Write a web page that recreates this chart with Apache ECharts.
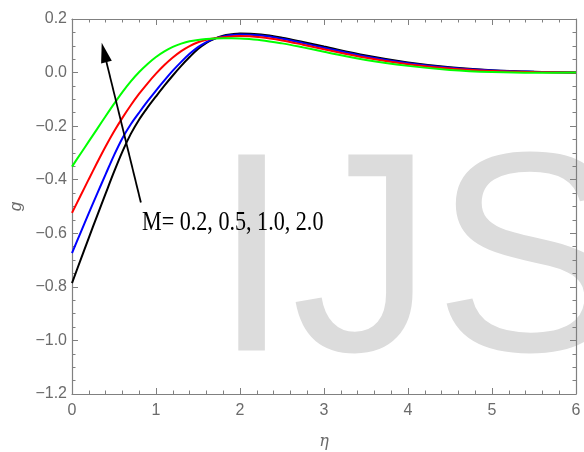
<!DOCTYPE html>
<html>
<head>
<meta charset="utf-8">
<script src="https://cdn.jsdelivr.net/npm/echarts@6/dist/echarts.min.js"></script>
<style>
  html, body { margin: 0; padding: 0; background: #fff; }
  #chart { width: 584px; height: 452px; }
</style>
</head>
<body>
<div id="chart"></div>
<script>
// Similarity variable η (finer near the wall, coarser in the far field)
const eta = [0, 0.1, 0.2, 0.3, 0.4, 0.5, 0.6, 0.7, 0.8, 0.9, 1.0, 1.1, 1.2, 1.3, 1.4, 1.5, 1.6, 1.7, 1.8, 1.9, 2.0,
             2.25, 2.5, 2.75, 3.0, 3.5, 4.0, 4.5, 5.0, 5.5, 6.0];

// g(η) profiles for the magnetic parameter M
const gM02 = [-0.786, -0.701, -0.617, -0.534, -0.452, -0.371, -0.295, -0.229, -0.175, -0.130, -0.089, -0.049, -0.011, 0.025, 0.058, 0.088, 0.111, 0.127, 0.138, 0.143, 0.146,
              0.142, 0.130, 0.114, 0.097, 0.064, 0.038, 0.020, 0.009, 0.003, 0.0];
const gM05 = [-0.674, -0.599, -0.525, -0.452, -0.380, -0.309, -0.245, -0.193, -0.149, -0.107, -0.067, -0.029, 0.007, 0.040, 0.070, 0.095, 0.114, 0.127, 0.135, 0.140, 0.142,
              0.138, 0.126, 0.110, 0.093, 0.060, 0.035, 0.018, 0.008, 0.003, 0.0];
const gM10 = [-0.524, -0.461, -0.398, -0.336, -0.276, -0.220, -0.169, -0.122, -0.079, -0.040, -0.004, 0.028, 0.056, 0.080, 0.099, 0.113, 0.122, 0.128, 0.132, 0.135, 0.137,
              0.132, 0.120, 0.104, 0.087, 0.055, 0.031, 0.015, 0.006, 0.002, 0.0];
const gM20 = [-0.351, -0.304, -0.257, -0.210, -0.163, -0.117, -0.073, -0.033, 0.002, 0.032, 0.058, 0.079, 0.096, 0.108, 0.117, 0.122, 0.125, 0.127, 0.128, 0.128, 0.127,
              0.121, 0.109, 0.094, 0.078, 0.047, 0.025, 0.010, 0.002, -0.001, 0.0];

const seriesNames = ['M = 0.2', 'M = 0.5', 'M = 1.0', 'M = 2.0'];
const seriesData = [gM02, gM05, gM10, gM20];
const seriesColors = ['#000000', '#0000ff', '#ff0000', '#00ff00'];

// Axis ranges
const xRange = [0, 6];
const yRange = [-1.2, 0.2];

// Annotation arrow: from the label toward increasing M
const arrowFrom = [0.82, -0.485];
const arrowTo = [0.382, 0.0754];
const annotation = 'M= 0.2, 0.5, 1.0, 2.0';

const axisGray = '#808080';
const labelGray = '#6b6b6b';
const labelFont = 'Liberation Sans, Arial, sans-serif';

function yFmt(v) {
  const a = Math.abs(v).toFixed(1);
  return (v < -1e-9 ? '\u2212' : '') + a;
}

function xAxisCfg(pos, showLabel) {
  return {
    type: 'value', position: pos, min: xRange[0], max: xRange[1], interval: 1,
    splitLine: { show: false },
    axisLine: { show: true, onZero: false, lineStyle: { color: axisGray, width: 1.2 } },
    axisTick: { show: true, inside: true, length: 6, lineStyle: { color: axisGray } },
    minorTick: { show: true, splitNumber: 5, length: 3.5, lineStyle: { color: axisGray } },
    axisLabel: { show: showLabel, color: labelGray, fontSize: 16, fontFamily: labelFont, margin: 9 },
    name: showLabel ? 'η' : '', nameLocation: 'middle', nameGap: 40,
    nameTextStyle: { color: labelGray, fontSize: 16, fontStyle: 'italic', fontFamily: 'DejaVu Serif, serif' }
  };
}

function yAxisCfg(pos, showLabel) {
  return {
    type: 'value', position: pos, min: yRange[0], max: yRange[1], interval: 0.2,
    splitLine: { show: false },
    axisLine: { show: true, onZero: false, lineStyle: { color: axisGray, width: 1.2 } },
    axisTick: { show: true, inside: true, length: 6, lineStyle: { color: axisGray } },
    minorTick: { show: true, splitNumber: 4, length: 3.5, lineStyle: { color: axisGray } },
    axisLabel: { show: showLabel, color: labelGray, fontSize: 16, fontFamily: labelFont, margin: 5, formatter: yFmt },
    name: showLabel ? 'g' : '', nameLocation: 'middle', nameGap: 36, nameRotate: 90,
    nameTextStyle: { color: labelGray, fontSize: 17, fontStyle: 'italic', fontFamily: labelFont }
  };
}

const series = seriesData.map((vals, i) => ({
  name: seriesNames[i],
  type: 'line',
  xAxisIndex: 0, yAxisIndex: 0,
  data: eta.map((x, k) => [x, vals[k]]),
  smooth: 0.35,
  showSymbol: false,
  lineStyle: { color: seriesColors[i], width: 2 },
  z: 3,
  silent: true
}));

series[0].markLine = {
  silent: true,
  symbol: ['none', 'triangle'],
  symbolSize: [11, 20],
  label: { show: false },
  lineStyle: { color: '#000', width: 1.8, type: 'solid' },
  data: [[{ coord: arrowFrom }, { coord: arrowTo }]]
};

const chart = echarts.init(document.getElementById('chart'), null, { renderer: 'canvas' });
chart.setOption({
  animation: false,
  backgroundColor: '#ffffff',
  grid: { left: 72, right: 8, top: 19, bottom: 58, containLabel: false, outerBoundsMode: 'none' },
  xAxis: [xAxisCfg('bottom', true), xAxisCfg('top', false)],
  yAxis: [yAxisCfg('left', true), yAxisCfg('right', false)],
  graphic: [
    {
      type: 'text', x: 212, y: 272, z: -10, silent: true,
      style: { text: 'IJS', fill: '#dcdcdc', font: '285px Liberation Sans, Arial, sans-serif', verticalAlign: 'middle', align: 'left' }
    },
    {
      type: 'text', x: 142, y: 223, scaleX: 0.79, z: 10, silent: true,
      style: { text: annotation, fill: '#000', font: '28px Liberation Serif, Times New Roman, serif', verticalAlign: 'middle', align: 'left' }
    }
  ],
  series: series
});
</script>
</body>
</html>
